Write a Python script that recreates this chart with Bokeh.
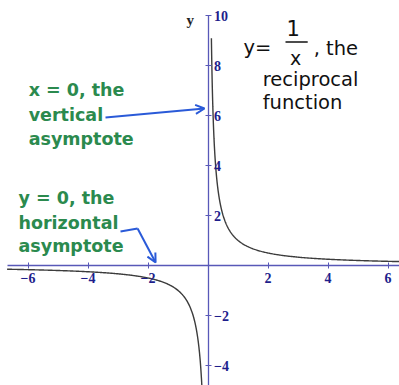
from bokeh.plotting import figure
from bokeh.models import (Range1d, LinearAxis, FixedTicker, Label, Arrow,
                          OpenHead, ColumnDataSource)
from bokeh.embed import file_html
from bokeh.resources import INLINE
import numpy as np

# Axis ticks and their printed labels
x_ticks = [-6, -4, -2, 2, 4, 6]
x_tick_labels = ["\u22126", "\u22124", "\u22122", "2", "4", "6"]
y_ticks = [-4, -2, 2, 4, 6, 8, 10]
y_tick_labels = ["\u22124", "\u22122", "2", "4", "6", "8", "10"]

# Domain of the two branches of y = 1/x
neg_x_start, neg_x_end = -6.7, -0.2
pos_x_start, pos_x_end = 0.11, 6.5

AXIS_COLOR = "#5858b8"
TICK_LABEL_COLOR = "#1e1e8c"
GREEN = "#2b8a4e"
BLUE = "#2a5ad8"

p = figure(width=399, height=385, output_backend="svg", toolbar_location=None,
           x_range=Range1d(-6.92, 6.38), y_range=Range1d(-4.8, 10.6),
           min_border=0, x_axis_type=None, y_axis_type=None)
p.outline_line_color = None
p.grid.visible = False
p.background_fill_color = "white"
p.border_fill_color = "white"

# Axes crossing at the origin
xaxis = LinearAxis(fixed_location=0, ticker=FixedTicker(ticks=x_ticks),
                   bounds=(-6.7, 7))
xaxis.major_label_overrides = dict(zip(x_ticks, x_tick_labels))
yaxis = LinearAxis(fixed_location=0, ticker=FixedTicker(ticks=y_ticks),
                   bounds=(-10, 10))
yaxis.major_label_overrides = dict(zip(y_ticks, y_tick_labels))
for ax in (xaxis, yaxis):
    ax.axis_line_color = AXIS_COLOR
    ax.axis_line_width = 1.3
    ax.major_tick_line_color = AXIS_COLOR
    ax.major_tick_in = 3
    ax.major_tick_out = 3
    ax.minor_tick_line_color = None
    ax.major_label_text_color = TICK_LABEL_COLOR
    ax.major_label_text_font = "Liberation Serif"
    ax.major_label_text_font_style = "bold"
    ax.major_label_text_font_size = "14px"
xaxis.major_label_standoff = 4
yaxis.major_label_standoff = 3
p.add_layout(xaxis, "below")
p.add_layout(yaxis, "right")

# The reciprocal function, one branch on each side of the asymptote
xn = np.linspace(neg_x_start, neg_x_end, 300)
xp = np.concatenate([np.linspace(pos_x_start, 1.0, 300), np.linspace(1.0, pos_x_end, 200)])
neg = ColumnDataSource(dict(x=xn, y=1.0 / xn))
pos = ColumnDataSource(dict(x=xp, y=1.0 / xp))
p.line("x", "y", source=neg, line_color="#3c3c3c", line_width=1.4)
p.line("x", "y", source=pos, line_color="#3c3c3c", line_width=1.4)

# y axis name
p.add_layout(Label(x=-0.72, y=9.52, text="y", text_font="Liberation Serif",
                   text_font_style="bold", text_font_size="15px",
                   text_color="#222222"))

# Title text: y = 1/x, the reciprocal function
def black(x, y, t, size="19.5px", align="left"):
    p.add_layout(Label(x=x, y=y, text=t, text_font="DejaVu Sans",
                       text_font_size=size, text_color="#111111",
                       text_align=align, text_baseline="alphabetic"))

black(1.18, 8.72, "y=")
black(2.84, 9.5, "1", size="21px", align="center")
black(2.92, 8.3, "x", size="19px", align="center")
black(3.52, 8.68, ", the")
black(1.82, 7.44, "reciprocal")
black(1.82, 6.52, "function")
p.segment(x0=[2.58], y0=[8.94], x1=[3.32], y1=[8.94], line_color="#111111",
          line_width=1.5)

# Asymptote notes
def green(x, y, t):
    p.add_layout(Label(x=x, y=y, text=t, text_font="DejaVu Sans",
                       text_font_style="bold", text_font_size="17.5px",
                       text_color=GREEN, text_baseline="alphabetic"))

for t, yy in zip(["x = 0, the", "vertical", "asymptote"], [7.04, 6.04, 5.08]):
    green(-5.98, yy, t)
for t, yy in zip(["y = 0, the", "horizontal", "asymptote"], [2.72, 1.72, 0.80]):
    green(-6.32, yy, t)

# Pointers to the asymptotes
p.add_layout(Arrow(x_start=-3.42, y_start=5.92, x_end=-0.12, y_end=6.28,
                   line_color=BLUE, line_width=2,
                   end=OpenHead(size=9, line_color=BLUE, line_width=2)))
p.segment(x0=[-2.92], y0=[1.36], x1=[-2.35], y1=[1.48], line_color=BLUE,
          line_width=2)
p.add_layout(Arrow(x_start=-2.35, y_start=1.48, x_end=-1.75, y_end=0.12,
                   line_color=BLUE, line_width=2,
                   end=OpenHead(size=9, line_color=BLUE, line_width=2)))

open("out.html", "w").write(file_html(p, INLINE))
